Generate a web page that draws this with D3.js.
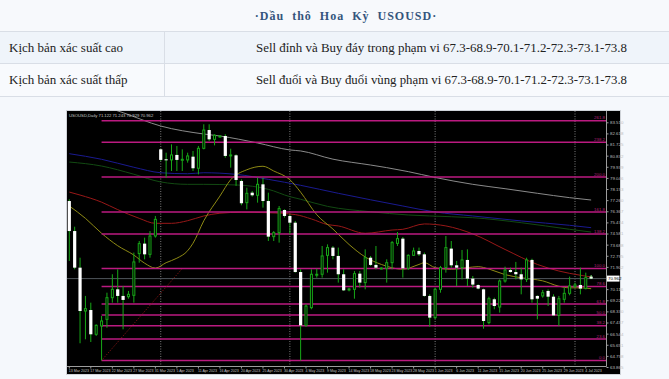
<!DOCTYPE html>
<html><head><meta charset="utf-8">
<script src="https://cdn.jsdelivr.net/npm/d3@7"></script>
<style>
html,body{margin:0;padding:0;background:#f5f8fc;}
svg{display:block;}
</style></head><body>
<svg id="c" width="669" height="379"></svg>
<script>
const title = "·Dầu thô Hoa Kỳ USOUSD·";
const scenarioNames = ["Kịch bản xác suất cao", "Kịch bản xác suất thấp"];
const scenarioTexts = [
  "Sell đỉnh và Buy đáy trong phạm vi 67.3-68.9-70.1-71.2-72.3-73.1-73.8",
  "Sell đuổi và Buy đuổi vùng phạm vi 67.3-68.9-70.1-71.2-72.3-73.1-73.8"
];
const chartLabel = "USOUSD,Daily  71.122 71.243 70.929 70.962";

const dates = [
 "2023-03-13","2023-03-14","2023-03-15","2023-03-16","2023-03-17","2023-03-19","2023-03-20","2023-03-21","2023-03-22","2023-03-23","2023-03-24","2023-03-26","2023-03-27","2023-03-28","2023-03-29","2023-03-30","2023-03-31",
 "2023-04-02","2023-04-03","2023-04-04","2023-04-05","2023-04-06","2023-04-09","2023-04-10","2023-04-11","2023-04-12","2023-04-13","2023-04-14","2023-04-16","2023-04-17","2023-04-18","2023-04-19","2023-04-20","2023-04-21","2023-04-23","2023-04-24","2023-04-25","2023-04-26","2023-04-27","2023-04-28","2023-04-30",
 "2023-05-01","2023-05-02","2023-05-03","2023-05-04","2023-05-05","2023-05-07","2023-05-08","2023-05-09","2023-05-10","2023-05-11","2023-05-12","2023-05-14","2023-05-15","2023-05-16","2023-05-17","2023-05-18","2023-05-19","2023-05-21","2023-05-22","2023-05-23","2023-05-24","2023-05-25","2023-05-26","2023-05-28","2023-05-29","2023-05-30","2023-05-31",
 "2023-06-01","2023-06-02","2023-06-04","2023-06-05","2023-06-06","2023-06-07","2023-06-08","2023-06-09","2023-06-11","2023-06-12","2023-06-13","2023-06-14","2023-06-15","2023-06-16","2023-06-18","2023-06-19","2023-06-20","2023-06-21","2023-06-22","2023-06-23","2023-06-25","2023-06-26","2023-06-27","2023-06-28","2023-06-29","2023-06-30",
 "2023-07-02","2023-07-03","2023-07-04","2023-07-05"
];
const opens = [77.19,74.78,71.84,68.36,68.44,66.49,67.16,67.69,69.43,70.10,69.57,69.51,69.62,72.97,73.77,72.91,74.38,
 81.34,80.54,80.49,80.89,80.49,80.49,80.75,79.82,81.42,82.89,82.14,82.36,82.41,80.81,80.86,78.80,77.06,77.86,77.65,78.53,77.19,74.33,74.65,76.47,
 75.99,75.45,71.49,67.21,68.63,71.23,71.31,72.83,73.45,72.78,71.31,70.05,70.10,71.36,70.64,72.64,72.06,71.76,71.79,72.24,73.79,74.17,71.79,72.83,73.18,72.91,69.57,
 67.83,70.10,71.84,73.37,72.03,71.84,72.46,70.96,70.45,70.10,67.43,69.30,68.68,70.77,71.65,71.49,71.31,70.90,72.46,69.57,69.57,69.97,69.51,68.01,69.30,69.78,
 70.32,70.45,70.16,71.122];
const highs = [77.33,75.13,72.64,69.57,69.03,67.29,67.96,69.83,71.31,71.71,70.37,69.97,73.05,73.98,74.25,74.78,75.99,
 81.39,81.07,81.74,81.61,81.34,81.07,81.21,81.61,83.35,83.35,82.55,82.47,82.55,81.39,80.94,78.93,78.26,77.99,79.07,79.07,77.86,74.78,76.79,76.52,
 76.12,75.59,71.71,68.90,71.71,71.76,73.58,73.71,73.58,73.45,71.71,70.24,71.57,71.57,73.31,72.78,73.58,71.87,72.51,73.98,74.70,74.30,72.91,73.45,73.45,73.05,69.70,
 70.24,71.98,74.38,73.98,72.38,73.26,73.31,71.17,70.50,70.16,69.51,69.43,70.90,71.92,71.84,72.30,71.84,72.64,72.56,69.62,70.05,70.10,69.70,69.57,70.24,71.12,
 70.64,71.84,71.44,71.243];
const lows = [72.38,71.71,65.77,66.09,65.87,66.36,64.39,67.02,69.03,69.03,66.89,69.35,69.03,72.24,72.51,72.64,74.25,
 80.41,79.07,79.60,79.60,79.60,80.27,79.60,79.33,81.34,82.01,81.66,82.28,80.67,79.87,78.40,76.85,76.52,77.54,77.06,76.66,73.98,73.98,73.85,75.86,
 74.52,71.44,64.38,67.10,68.50,71.04,71.04,71.44,72.51,70.64,69.97,69.94,69.35,70.24,70.10,71.98,71.71,71.71,70.64,71.71,73.58,71.04,71.65,72.78,72.78,69.51,67.10,
 67.69,69.83,71.44,71.84,70.37,70.90,70.37,70.24,70.10,66.94,67.29,68.50,68.23,70.64,71.44,70.90,69.70,70.69,69.03,67.69,69.43,68.76,67.96,67.16,69.03,69.62,
 70.24,69.70,70.10,70.929];
const closes = [74.78,71.84,68.36,68.55,66.49,67.21,67.56,69.43,70.10,69.57,69.25,69.70,72.30,73.77,72.91,74.38,75.72,
 80.49,80.46,80.89,80.49,80.54,80.81,79.82,81.42,82.89,82.14,82.47,82.41,80.81,80.89,78.88,77.01,77.81,77.65,78.53,77.19,74.33,74.65,76.58,75.99,
 75.45,71.49,67.21,68.76,71.31,71.31,72.78,73.45,72.78,71.31,70.02,70.13,71.36,70.64,72.64,72.06,71.84,71.81,72.24,73.85,74.17,71.79,72.83,73.18,72.91,69.57,67.83,
 70.10,71.84,73.45,72.03,71.84,72.46,70.96,70.48,70.16,67.56,69.35,68.76,70.77,71.65,71.49,71.31,70.90,72.46,69.30,69.35,69.83,69.51,68.01,69.35,69.78,70.37,
 70.45,70.16,71.04,70.962];

// 71.009 is hidden behind the last-price tag in the reference
const priceTicks = [63.865,64.758,65.651,66.544,67.437,68.330,69.223,70.116,71.902,72.795,73.688,74.581,75.474,76.367,77.260,78.153,79.046,79.939,80.832,81.725,82.618,83.510];
const timeTicks = ["2023-03-13","2023-03-17","2023-03-22","2023-03-27","2023-03-31","2023-04-05","2023-04-11","2023-04-16","2023-04-20","2023-04-25","2023-04-30","2023-05-04","2023-05-09","2023-05-14","2023-05-18","2023-05-23","2023-05-28","2023-06-01","2023-06-06","2023-06-11","2023-06-15","2023-06-20","2023-06-25","2023-06-29","2023-07-04"];
const monthStarts = ["2023-04-02","2023-05-01","2023-06-01","2023-07-02"];

const fibLabels = ["0.0","23.6","38.2","50.0","61.8","78.6","100.0","138.2","161.8","200.0","238.2","261.8"];
const fibPrices = [64.39,66.11,67.18,68.04,68.92,70.33,71.77,74.54,76.31,79.12,81.91,83.64];
const fibStart = "2023-03-20";
const fibAnchor = [["2023-03-20",64.39],["2023-04-06",71.77]];
const lastPrice = 70.962;

// moving averages: [bar index, price]
const maOlive = [[0,76.79],[3,75.8],[6,74.6],[9,73.6],[12,72.85],[14,72.2],[16,71.81],[18,72.24],[20,72.6],[22,73.2],[23,73.8],[25,75.6],[28,77.59],[30,78.9],[33,79.7],[36,79.98],[38,79.6],[41,78.9],[43,77.9],[46,76.09],[49,74.94],[52,73.7],[55,72.7],[58,72.1],[62,71.71],[65,72.1],[66,72.24],[68,71.84],[71,71.71],[74,71.84],[76,71.92],[78,71.73],[81,71.28],[84,71.03],[88,70.78],[91,70.35],[93,70.22],[95,70.22],[97,70.15]];
const maRed = [[0,77.91],[2,77.67],[6,77.1],[9,76.5],[13,75.8],[16,75.4],[19,75.4],[22,75.61],[25,75.99],[28,76.21],[32,76.29],[37,76.25],[42,76.1],[45,75.75],[48,75.3],[50,75.19],[55,74.6],[60,74.86],[62,74.92],[66,75.35],[70,75.19],[75,74.55],[81,73.3],[87,72.1],[91,71.57],[95,71.23],[97,71.09]];
const maGreen = [[0,80.32],[6,80.0],[12,79.34],[17,78.72],[22,78.53],[25,78.53],[31,78.48],[37,78.13],[41,77.54],[43,77.33],[48,76.76],[56,76.33],[63,76.07],[71,75.93],[75,75.85],[84,75.45],[93,74.92],[97,74.7]];
const maBlue = [[0,80.99],[6,80.54],[12,79.9],[17,79.46],[22,79.38],[25,79.46],[31,79.33],[37,78.93],[43,78.45],[50,77.81],[62,76.79],[68,76.31],[75,75.99],[84,75.59],[93,75.24],[97,75.05]];
const maGray = [[6,84.86],[10,84.28],[17,83.21],[25,82.57],[28,82.41],[35,81.85],[41,81.29],[43,81.21],[49,80.55],[56,80.08],[59,79.87],[63,79.55],[68,79.08],[75,78.53],[81,78.18],[87,77.81],[93,77.46],[97,77.27]];

const svg = d3.select("#c");
const serif = "'Liberation Serif','Times New Roman',serif";
const sans = "'Liberation Sans',Arial,sans-serif";

// ---------- table ----------
const tbl = svg.append("g");
tbl.append("rect").attr("x",0).attr("y",0).attr("width",669).attr("height",31).attr("fill","#f7f9fc");
tbl.append("rect").attr("x",0).attr("y",31).attr("width",669).attr("height",32).attr("fill","#eff4fa");
tbl.append("rect").attr("x",0).attr("y",63).attr("width",669).attr("height",33).attr("fill","#f8fafd");
[31,63,96].forEach(v=>tbl.append("line").attr("x1",0).attr("x2",669).attr("y1",v+0.5).attr("y2",v+0.5).attr("stroke","#d9dee6"));
tbl.append("line").attr("x1",164.5).attr("x2",164.5).attr("y1",31).attr("y2",96).attr("stroke","#d9dee6");
tbl.append("text").attr("x",346).attr("y",20).attr("text-anchor","middle")
  .attr("font-family",serif).attr("font-size",12).attr("font-weight","bold")
  .attr("letter-spacing",1).attr("word-spacing",4).attr("fill","#34557c").text(title);
scenarioNames.forEach((s,i)=>{
  tbl.append("text").attr("x",9).attr("y",52+i*32).attr("font-family",serif).attr("font-size",13).attr("fill","#222").text(s);
  tbl.append("text").attr("x",256).attr("y",52+i*32).attr("font-family",serif).attr("font-size",13).attr("fill","#222")
    .attr("textLength",371).attr("lengthAdjust","spacingAndGlyphs").text(scenarioTexts[i]);
});

// ---------- chart ----------
const PL=67, PR=606.5, PT=111, PB=366.5;
svg.append("rect").attr("x",66.5).attr("y",110.5).attr("width",554).attr("height",264).attr("fill","#000").attr("stroke","#cfd3d8");

const x = d3.scaleBand().domain(dates).range([66.6, 66.6 + 5.38*dates.length]);
const cx = d => x(d) + x.bandwidth()/2;
const xi = i => cx(dates[i]);
const y = d3.scaleLinear().domain([63.865, 83.51]).range([367, 122.3]);

svg.append("clipPath").attr("id","pc").append("rect").attr("x",PL).attr("y",PT).attr("width",PR-PL).attr("height",PB-PT);
const g = svg.append("g").attr("clip-path","url(#pc)");

// month separators
monthStarts.forEach(d=>{
  g.append("line").attr("x1",cx(d)).attr("x2",cx(d)).attr("y1",PT).attr("y2",PB)
   .attr("stroke","#9a9a9a").attr("stroke-width",0.8).attr("stroke-dasharray","1,1.5");
});

// moving averages
const line = d3.line().x(d=>xi(d[0])).y(d=>y(d[1])).curve(d3.curveMonotoneX);
[[maGray,"#8a8a8a"],[maBlue,"#1a1a90"],[maGreen,"#124a12"],[maRed,"#981818"],[maOlive,"#8e8a14"]].forEach(([arr,col])=>{
  g.append("path").attr("d",line(arr)).attr("fill","none").attr("stroke",col).attr("stroke-width",1);
});

// fibonacci levels
fibPrices.forEach((p,i)=>{
  g.append("line").attr("x1",cx(fibStart)).attr("x2",PR).attr("y1",y(p)).attr("y2",y(p))
   .attr("stroke","#bb1a80").attr("stroke-width",1.5);
  g.append("text").attr("x",PR-1.5).attr("y",y(p)-1.3).attr("text-anchor","end")
   .attr("font-family",sans).attr("font-size",4.4).attr("fill","#b0207a").text(fibLabels[i]);
});
g.append("line").attr("x1",cx(fibAnchor[0][0])).attr("y1",y(fibAnchor[0][1]))
 .attr("x2",cx(fibAnchor[1][0])).attr("y2",y(fibAnchor[1][1]))
 .attr("stroke","#a01818").attr("stroke-width",0.9).attr("stroke-dasharray","1,1.5");

// bid line
g.append("line").attr("x1",PL).attr("x2",PR).attr("y1",y(lastPrice)).attr("y2",y(lastPrice))
 .attr("stroke","#50555c").attr("stroke-width",1);

// candles
const wick = "#17a817";
dates.forEach((d,i)=>{
  const c = cx(d);
  g.append("line").attr("x1",c).attr("x2",c).attr("y1",y(highs[i])).attr("y2",y(lows[i]))
   .attr("stroke", i===dates.length-1 ? "#7dff7d" : wick).attr("stroke-width",1);
  const top = y(Math.max(opens[i],closes[i])), bot = y(Math.min(opens[i],closes[i]));
  const h = Math.max(1, bot-top);
  if (closes[i] >= opens[i]) {
    g.append("rect").attr("x",c-1).attr("y",top).attr("width",2).attr("height",h)
     .attr("fill","#000").attr("stroke",wick).attr("stroke-width",1);
  } else {
    g.append("rect").attr("x",c-1.6).attr("y",top).attr("width",3.2).attr("height",h)
     .attr("fill", i===dates.length-1 ? "#eaffea" : "#ffffff");
  }
});

// chart caption
svg.append("text").attr("x",69).attr("y",116.5).attr("font-family",sans).attr("font-size",4.2)
 .attr("fill","#c8c8c8").text(chartLabel);

// axes
const yAxis = svg.append("g").attr("transform",`translate(${PR},0)`)
  .call(d3.axisRight(y).tickValues(priceTicks).tickSize(2).tickPadding(1.5).tickFormat(d3.format(".3f")));
yAxis.select(".domain").attr("stroke","#9c9c9c").attr("d",`M0,${PT}V${PB}`);
yAxis.selectAll(".tick line").attr("stroke","#9c9c9c");
yAxis.selectAll(".tick text").attr("font-family",sans).attr("font-size",4.4).attr("fill","#bcbcbc");

const fmt = d3.timeFormat("%-d %b %Y"), parse = d3.timeParse("%Y-%m-%d");
const xAxis = svg.append("g").attr("transform",`translate(0,${PB})`)
  .call(d3.axisBottom(x).tickValues(timeTicks).tickSize(2).tickPadding(1.2).tickFormat(d=>fmt(parse(d))));
xAxis.select(".domain").attr("stroke","#9c9c9c").attr("d",`M${PL},0H${PR}`);
xAxis.selectAll(".tick line").attr("stroke","#9c9c9c");
xAxis.selectAll(".tick text").attr("text-anchor","start").attr("x",-0.5)
  .attr("font-family",sans).attr("font-size",3.6).attr("fill","#c0c0c0");

// last price tag
const ly = y(lastPrice);
svg.append("rect").attr("x",PR+0.5).attr("y",ly-3).attr("width",12.5).attr("height",6).attr("fill","#ffffff");
svg.append("text").attr("x",PR+1.5).attr("y",ly+1.6).attr("font-family",sans).attr("font-size",4.4).attr("fill","#000").text(d3.format(".3f")(lastPrice));
</script></body></html>
